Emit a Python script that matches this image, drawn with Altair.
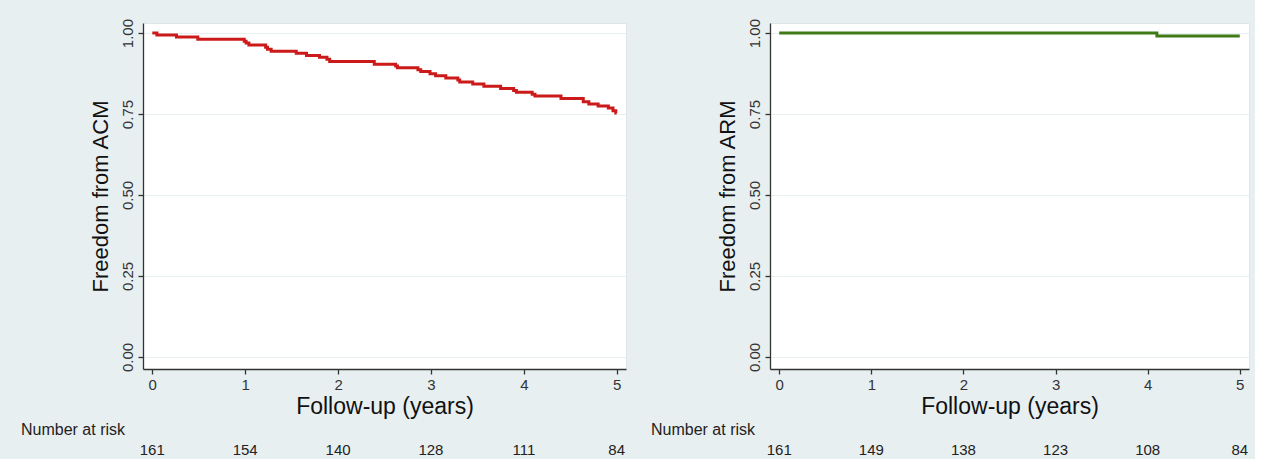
import altair as alt
import pandas as pd

# ---- data ----
years = [0, 1, 2, 3, 4, 5]
y_ticks = [0.0, 0.25, 0.5, 0.75, 1.0]

acm_time = [0.00, 0.05, 0.26, 0.49, 0.99, 1.01, 1.04, 1.22, 1.24, 1.28, 1.55,
            1.66, 1.80, 1.88, 1.91, 2.39, 2.62, 2.64, 2.86, 2.89, 2.99, 3.05,
            3.16, 3.29, 3.31, 3.45, 3.57, 3.75, 3.89, 3.92, 4.09, 4.12, 4.40,
            4.64, 4.70, 4.80, 4.91, 4.96, 4.99, 5.00]
acm_surv = [1.000, 0.994, 0.988, 0.981, 0.975, 0.969, 0.963, 0.956, 0.950,
            0.944, 0.938, 0.931, 0.925, 0.919, 0.912, 0.904, 0.898, 0.893,
            0.887, 0.881, 0.874, 0.868, 0.861, 0.855, 0.849, 0.843, 0.836,
            0.829, 0.823, 0.817, 0.811, 0.806, 0.798, 0.788, 0.781, 0.775,
            0.769, 0.760, 0.753, 0.753]
acm_risk = [161, 154, 140, 128, 111, 84]

arm_time = [0.00, 4.10, 5.00]
arm_surv = [1.000, 0.991, 0.991]
arm_risk = [161, 149, 138, 123, 108, 84]

BG = "#e8eff1"
FONT = "Liberation Sans"
H = 346


def panel(time, surv, color, ytitle, risk, w, nar_dx):
    df = pd.DataFrame({"t": time, "s": surv})
    xs = alt.Scale(domain=[-0.1, 5.1], nice=False, zero=False)
    ys = alt.Scale(domain=[-0.037, 1.031], nice=False, zero=False)
    xenc = alt.X(
        "t:Q", scale=xs,
        axis=alt.Axis(values=years, title="Follow-up (years)", grid=False,
                      format="d", labelPadding=3, titlePadding=3,
                      titleFontSize=23),
    )
    line = alt.Chart(df).mark_line(
        interpolate="step-after", color=color, strokeWidth=3
    ).encode(
        x=xenc,
        y=alt.Y(
            "s:Q", scale=ys,
            axis=alt.Axis(values=y_ticks, format=".2f", title=ytitle,
                          labelAngle=270, labelAlign="center",
                          labelBaseline="bottom", labelPadding=3,
                          titlePadding=8, titleFontSize=22, grid=True),
        ),
    )
    rdf = pd.DataFrame({"t": years, "n": risk})
    nums = alt.Chart(rdf).mark_text(
        fontSize=15, font=FONT, color="#222222"
    ).encode(x=xenc, y=alt.value(H + 81), text="n:Q")
    lab = alt.Chart(pd.DataFrame({"l": ["Number at risk"]})).mark_text(
        align="left", fontSize=16, font=FONT, color="#222222"
    ).encode(x=alt.value(nar_dx), y=alt.value(H + 61), text="l:N")
    return alt.layer(line, nums, lab).properties(width=w, height=H)


left = panel(acm_time, acm_surv, "#cc1a1a", "Freedom from ACM", acm_risk, 483, -122)
right = panel(arm_time, arm_surv, "#3f7a14", "Freedom from ARM", arm_risk, 479, -119)

chart = alt.hconcat(left, right, spacing=23).configure(
    background=BG,
    padding={"left": 20, "top": 17, "right": 5, "bottom": 0},
).configure_view(
    fill="white", stroke="#dde6e9"
).configure_axis(
    labelFont=FONT, titleFont=FONT, labelFontSize=15,
    titleFontWeight="normal", labelColor="#333333", titleColor="#111111",
    domainColor="#333333", tickColor="#333333", domainWidth=1.3,
    tickWidth=1.3, tickSize=5, gridColor=BG, gridWidth=1,
)

chart.save("out.html", embed_options={"renderer": "svg", "actions": False})
